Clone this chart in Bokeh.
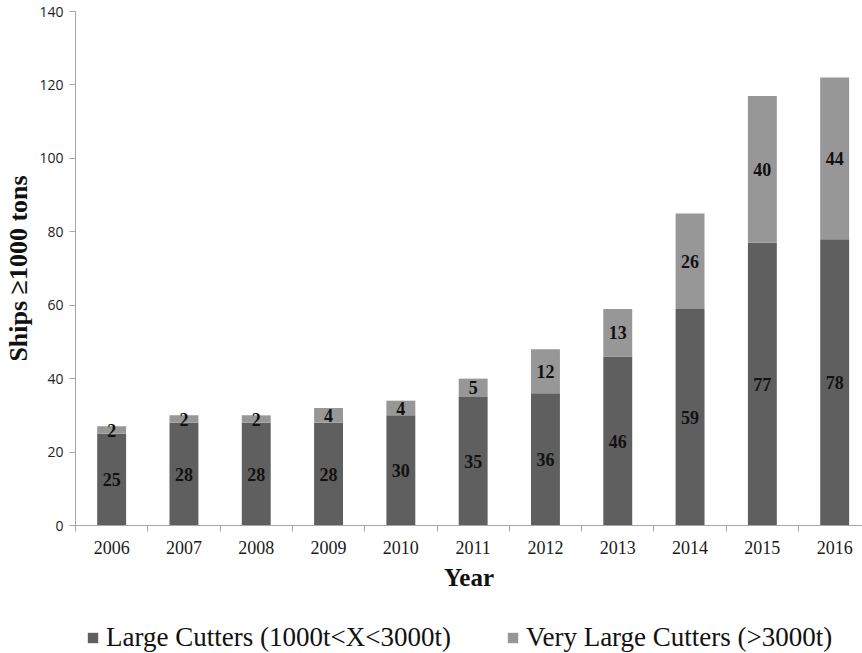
from bokeh.plotting import figure
from bokeh.layouts import column
from bokeh.models import ColumnDataSource, Range1d, FixedTicker, Legend, LegendItem
from bokeh.core.properties import value
from bokeh.embed import file_html
from bokeh.resources import INLINE

years = ["2006", "2007", "2008", "2009", "2010", "2011", "2012", "2013", "2014", "2015", "2016"]
large_cutters = [25, 28, 28, 28, 30, 35, 36, 46, 59, 77, 78]
very_large_cutters = [2, 2, 2, 4, 4, 5, 12, 13, 26, 40, 44]
series_names = ["Large Cutters (1000t<X<3000t)", "Very Large Cutters (>3000t)"]
y_ticks = [0, 20, 40, 60, 80, 100, 120, 140]

DARK = "#5f5f5f"
LIGHT = "#979797"
SERIF = "Liberation Serif"

xs = list(range(len(years)))
totals = [a + b for a, b in zip(large_cutters, very_large_cutters)]
src = ColumnDataSource(dict(
    x=xs,
    large=large_cutters,
    very=very_large_cutters,
    total=totals,
    mid_large=[a / 2 for a in large_cutters],
    mid_very=[a + b / 2 for a, b in zip(large_cutters, very_large_cutters)],
    lbl_large=[str(a) for a in large_cutters],
    lbl_very=[str(b) for b in very_large_cutters],
))

W = 862
p = figure(width=W, height=600, output_backend="svg", toolbar_location=None,
           x_range=Range1d(-0.5, 10.385), y_range=Range1d(0, 140),
           min_border_left=75, min_border_right=0, min_border_top=11, min_border_bottom=75)

r1 = p.vbar(x="x", bottom=0, top="large", width=0.4, fill_color=DARK, line_color=None, source=src)
r2 = p.vbar(x="x", bottom="large", top="total", width=0.4, fill_color=LIGHT, line_color=None, source=src)

for ycol, tcol in (("mid_large", "lbl_large"), ("mid_very", "lbl_very")):
    p.text(x="x", y=ycol, text=tcol, source=src, text_align="center", text_baseline="middle",
           text_font=value(SERIF), text_font_style="bold", text_font_size="18px", text_color="#111111")

p.xgrid.visible = False
p.ygrid.visible = False
p.outline_line_color = None
p.background_fill_color = "white"
p.border_fill_color = "white"

xa = p.xaxis[0]
xa.ticker = FixedTicker(ticks=xs, minor_ticks=[i - 0.5 for i in range(len(years) + 1)])
xa.major_label_overrides = {i: y for i, y in enumerate(years)}
xa.major_tick_out = 0
xa.major_tick_in = 0
xa.minor_tick_out = 6
xa.minor_tick_in = 0
xa.axis_line_color = "#a6a6a6"
xa.minor_tick_line_color = "#a6a6a6"
xa.major_label_text_font = SERIF
xa.major_label_text_font_size = "18px"
xa.major_label_text_color = "#1a1a1a"
xa.major_label_standoff = 9
xa.axis_label = "Year"
xa.axis_label_text_font = SERIF
xa.axis_label_text_font_style = "bold"
xa.axis_label_text_font_size = "25px"
xa.axis_label_text_color = "#111111"
xa.axis_label_standoff = 7

ya = p.yaxis[0]
ya.ticker = FixedTicker(ticks=y_ticks)
ya.major_tick_out = 6
ya.major_tick_in = 0
ya.minor_tick_out = 0
ya.minor_tick_in = 0
ya.axis_line_color = "#a6a6a6"
ya.major_tick_line_color = "#a6a6a6"
ya.major_label_text_font = "Open Sans"
ya.major_label_text_font_size = "14px"
ya.major_label_text_color = "#222222"
ya.major_label_standoff = 6
ya.axis_label = "Ships \u22651000 tons"
ya.axis_label_text_font = SERIF
ya.axis_label_text_font_style = "bold"
ya.axis_label_text_font_size = "26px"
ya.axis_label_text_color = "#111111"
ya.axis_label_standoff = 3

# legend strip below the chart (same series, drawn out of view; only the legend shows)
leg = figure(width=W, height=53, output_backend="svg", toolbar_location=None,
             x_range=Range1d(-0.5, 10.385), y_range=Range1d(1000, 1001),
             x_axis_location=None, y_axis_location=None, min_border=0,
             min_border_left=75, min_border_right=0)
leg.xgrid.visible = False
leg.ygrid.visible = False
leg.outline_line_color = None
l1 = leg.vbar(x="x", bottom=0, top="large", width=0.4, fill_color=DARK, line_color=None, source=src)
l2 = leg.vbar(x="x", bottom="large", top="total", width=0.4, fill_color=LIGHT, line_color=None, source=src)
legend = Legend(items=[LegendItem(label=series_names[0], renderers=[l1]),
                       LegendItem(label=series_names[1], renderers=[l2])],
                orientation="horizontal", location=(11, 0),
                glyph_width=13, glyph_height=13, label_standoff=7, spacing=55,
                label_text_font=SERIF, label_text_font_size="27px", label_text_color="#111111",
                border_line_color=None, background_fill_alpha=0, padding=0, margin=0)
leg.add_layout(legend, "center")

layout = column(p, leg, spacing=0)
open("out.html", "w").write(file_html(layout, INLINE))
